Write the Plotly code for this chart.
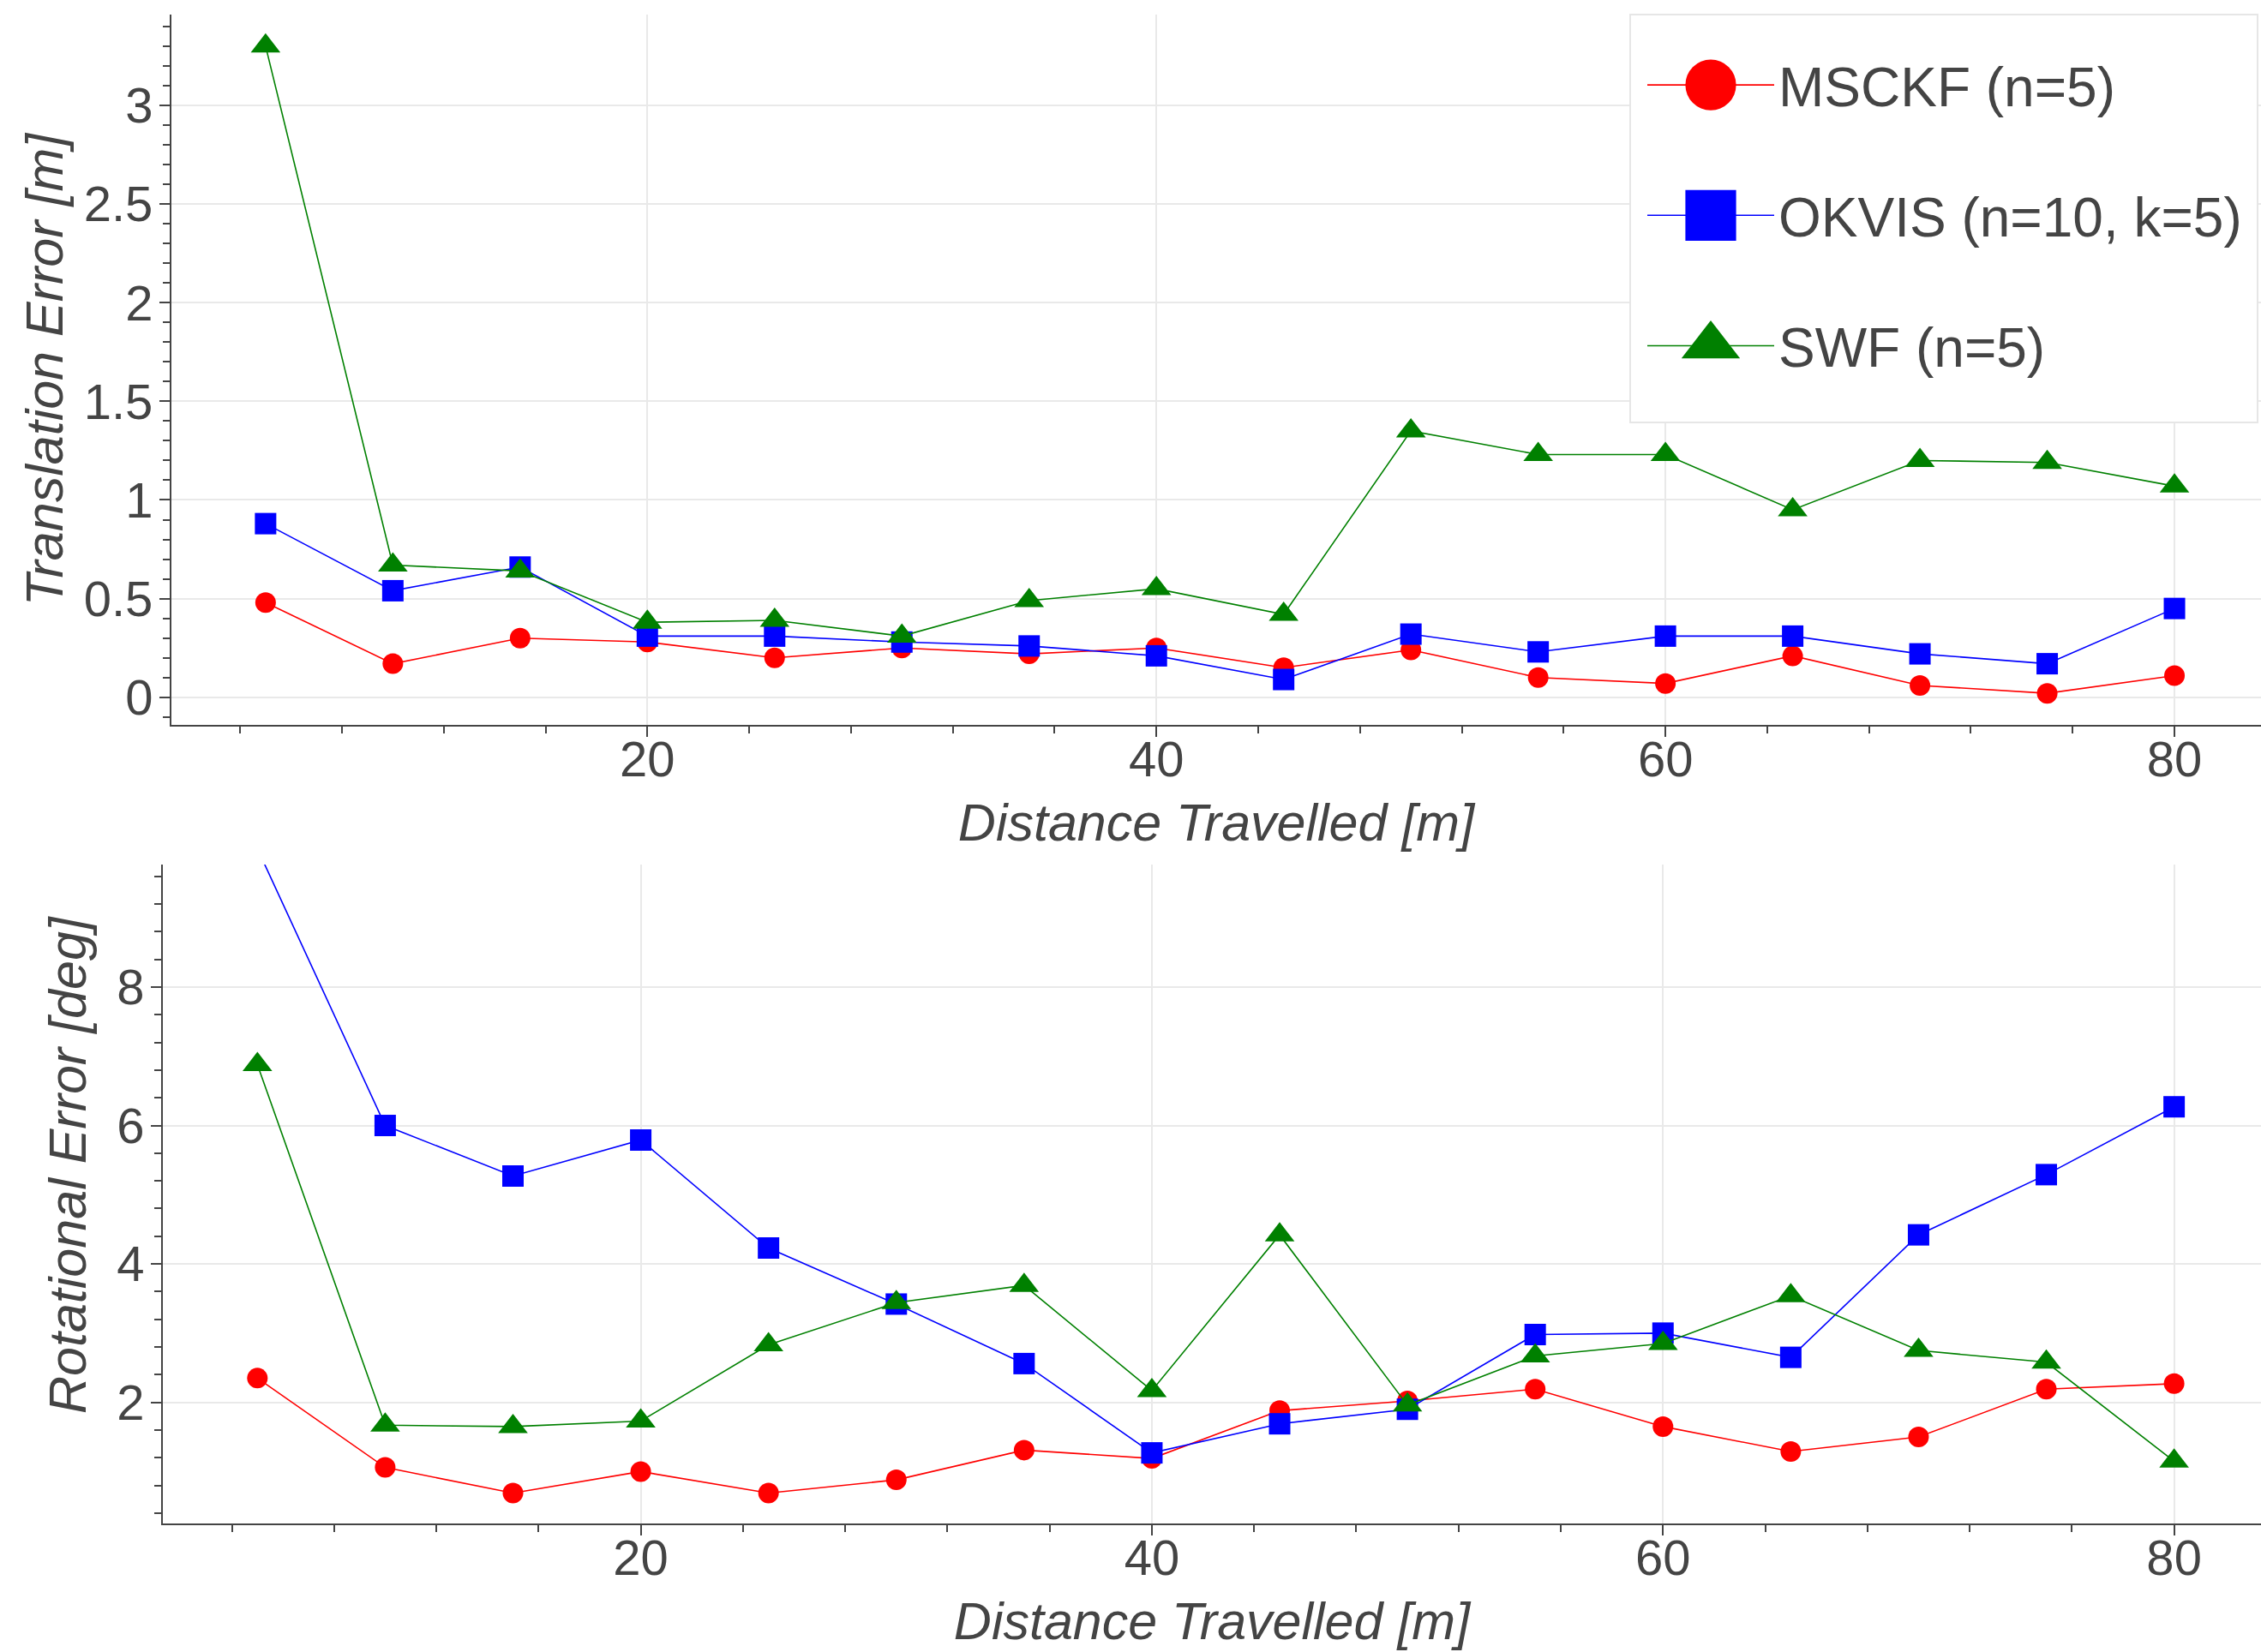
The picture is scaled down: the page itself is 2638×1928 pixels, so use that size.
import plotly.graph_objects as go

distance = [5, 10, 15, 20, 25, 30, 35, 40, 45, 50, 55, 60, 65, 70, 75, 80]

msckf_trans = [0.48, 0.17, 0.30, 0.28, 0.20, 0.25, 0.22, 0.25, 0.15, 0.24, 0.10, 0.07, 0.21, 0.06, 0.02, 0.11]
okvis_trans = [0.88, 0.54, 0.66, 0.31, 0.31, 0.28, 0.26, 0.21, 0.09, 0.32, 0.23, 0.31, 0.31, 0.22, 0.17, 0.45]
swf_trans = [3.30, 0.67, 0.64, 0.38, 0.39, 0.31, 0.49, 0.55, 0.42, 1.35, 1.23, 1.23, 0.95, 1.20, 1.19, 1.07]

msckf_rot = [2.35, 1.06, 0.69, 1.00, 0.69, 0.88, 1.31, 1.19, 1.88, 2.02, 2.19, 1.65, 1.29, 1.50, 2.19, 2.27]
okvis_rot = [10.0, 6.00, 5.27, 5.79, 4.23, 3.42, 2.56, 1.27, 1.69, 1.90, 2.98, 3.00, 2.65, 4.42, 5.29, 6.27]
swf_rot = [6.88, 1.67, 1.65, 1.73, 2.83, 3.44, 3.69, 2.17, 4.42, 1.96, 2.67, 2.85, 3.54, 2.75, 2.58, 1.15]

names = ["MSCKF (n=5)", "OKVIS (n=10, k=5)", "SWF (n=5)"]
colors = ["#ff0000", "#0000ff", "#008000"]
symbols = ["circle", "square", "triangle-up"]
sizes = [24, 25, 30]

FONT = "Liberation Sans, Arial, sans-serif"
GREY = "#444444"

fig = go.Figure()

trans = [msckf_trans, okvis_trans, swf_trans]
rot = [msckf_rot, okvis_rot, swf_rot]

for i in range(3):
    fig.add_trace(go.Scatter(
        x=distance, y=trans[i], name=names[i], mode="lines+markers",
        line=dict(color=colors[i], width=1.6),
        marker=dict(color=colors[i], symbol=symbols[i], size=sizes[i]),
        legendgroup=names[i], xaxis="x", yaxis="y",
    ))
for i in range(3):
    fig.add_trace(go.Scatter(
        x=distance, y=rot[i], name=names[i], mode="lines+markers",
        line=dict(color=colors[i], width=1.6),
        marker=dict(color=colors[i], symbol=symbols[i], size=sizes[i]),
        legendgroup=names[i], showlegend=False, xaxis="x2", yaxis="y2",
    ))

W, H = 2638, 1928

common_x = dict(
    range=[1.3, 83.4], dtick=20, tick0=0,
    showgrid=True, gridcolor="#e9e9e9", gridwidth=1.5,
    showline=True, linecolor=GREY, linewidth=2,
    ticks="outside", ticklen=12, tickwidth=2, tickcolor=GREY,
    minor=dict(dtick=4, tick0=0, ticklen=8, tickwidth=1.5, tickcolor=GREY, ticks="outside", showgrid=False),
    zeroline=False,
    ticklabelstandoff=-24,
    tickfont=dict(size=58, family=FONT, color=GREY),
    title=dict(text="<i>Distance Travelled [m]</i>", font=dict(size=61, family=FONT, color=GREY), standoff=22),
)

common_y = dict(
    showgrid=True, gridcolor="#e9e9e9", gridwidth=1.5,
    showline=True, linecolor=GREY, linewidth=2,
    ticks="outside", ticklen=12, tickwidth=2, tickcolor=GREY,
    zeroline=False,
    ticklabelstandoff=-4,
    tickfont=dict(size=58, family=FONT, color=GREY),
)

fig.update_layout(
    width=W, height=H,
    margin=dict(l=0, r=0, t=0, b=0),
    paper_bgcolor="white", plot_bgcolor="white",
    font=dict(family=FONT, color=GREY),
    xaxis=dict(common_x, domain=[200 / W, 1], anchor="y"),
    yaxis=dict(
        common_y,
        domain=[1 - 846 / H, 1 - 17 / H], anchor="x",
        range=[-0.14, 3.46], dtick=0.5, tick0=0,
        minor=dict(dtick=0.1, tick0=0, ticklen=8, tickwidth=1.5, tickcolor=GREY, ticks="outside", showgrid=False),
        title=dict(text="<i>Translation Error [m]</i>", font=dict(size=61, family=FONT, color=GREY), standoff=4),
    ),
    xaxis2=dict(common_x, domain=[190 / W, 1], anchor="y2"),
    yaxis2=dict(
        common_y,
        domain=[1 - 1778 / H, 1 - 1009 / H], anchor="x2",
        range=[0.25, 9.77], dtick=2, tick0=0,
        minor=dict(dtick=0.4, tick0=0, ticklen=8, tickwidth=1.5, tickcolor=GREY, ticks="outside", showgrid=False),
    ),
    annotations=[dict(
        text="<i>Rotational Error [deg]</i>", textangle=-90,
        xref="paper", yref="paper", x=79 / W, y=1 - 1359 / H,
        xanchor="center", yanchor="middle", showarrow=False,
        font=dict(size=61, family=FONT, color=GREY),
    )],
    legend=dict(
        x=1917 / W, y=1 - 51 / H, xanchor="left", yanchor="top",
        bgcolor="rgba(0,0,0,0)", borderwidth=0,
        font=dict(size=64, family=FONT, color=GREY),
        itemwidth=148, traceorder="grouped", tracegroupgap=66,
    ),
    showlegend=True,
    shapes=[dict(
        type="rect", xref="paper", yref="paper",
        x0=1902 / W, x1=2634 / W, y0=1 - 493 / H, y1=1 - 17 / H,
        fillcolor="white", line=dict(color="#e6e6e6", width=2), layer="above",
    )],
)

post = """
document.body.style.margin = '0';
var gd = document.getElementById('{plot_id}');
gd.querySelectorAll('.legend path.scatterpts').forEach(function(p){
  var t = p.getAttribute('transform') || '';
  p.setAttribute('transform', t + ' scale(3.7)');
});
"""

fig.write_html("out.html", post_script=post, config={"displayModeBar": False})
